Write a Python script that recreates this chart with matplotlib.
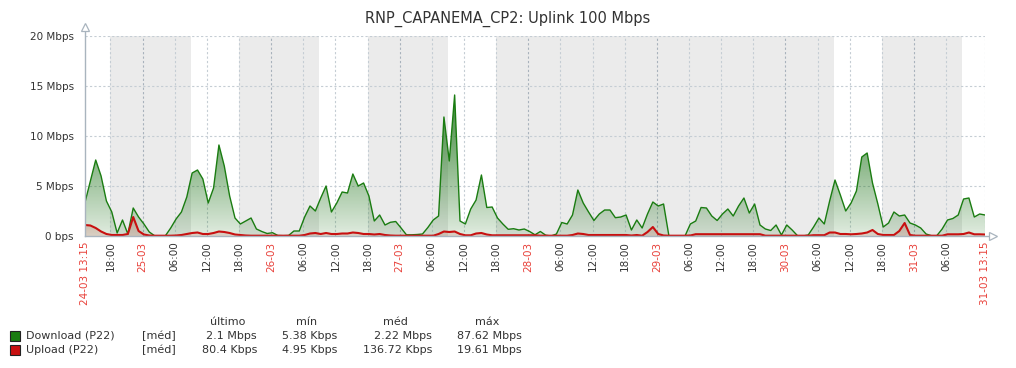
import numpy as np
import pandas as pd
import matplotlib
matplotlib.use('Agg')
import matplotlib.pyplot as plt
from matplotlib.patches import Rectangle

title = 'RNP_CAPANEMA_CP2: Uplink 100 Mbps'
start = '2015-03-24 13:15'
end = '2015-03-31 13:15'

# hourly averages, in Mbps
download = [3.37, 5.5, 7.6, 6.0, 3.5, 2.4, 0.3, 1.6, 0.2, 2.8,
            1.9, 1.2, 0.4, 0.02, 0.02, 0.02, 0.8, 1.7, 2.4, 3.9,
            6.3, 6.6, 5.7, 3.3, 4.8, 9.1, 7.0, 4.0, 1.8, 1.2,
            1.5, 1.8, 0.7, 0.45, 0.25, 0.33, 0.05, 0.03, 0.05, 0.5,
            0.5, 1.9, 3.0, 2.5, 3.8, 5.0, 2.4, 3.3, 4.4, 4.3,
            6.2, 5.0, 5.3, 4.0, 1.5, 2.1, 1.1, 1.37, 1.45, 0.8,
            0.12, 0.12, 0.15, 0.2, 0.85, 1.6, 2.0, 11.9, 7.5, 14.1,
            1.5, 1.2, 2.7, 3.6, 6.1, 2.85, 2.9, 1.8, 1.2, 0.67,
            0.73, 0.6, 0.7, 0.45, 0.12, 0.45, 0.08, 0.0, 0.2, 1.35,
            1.2, 2.1, 4.6, 3.3, 2.4, 1.55, 2.2, 2.6, 2.6, 1.83,
            1.9, 2.1, 0.6, 1.6, 0.8, 2.2, 3.4, 3.0, 3.2, 0.0,
            0.0, 0.0, 0.0, 1.2, 1.5, 2.85, 2.8, 2.0, 1.55, 2.2,
            2.7, 2.0, 3.0, 3.8, 2.3, 3.2, 1.1, 0.7, 0.55, 1.1,
            0.1, 1.1, 0.6, 0.03, 0.0, 0.1, 0.9, 1.8, 1.2, 3.5,
            5.6, 4.1, 2.5, 3.3, 4.5, 7.9, 8.3, 5.3, 3.2, 0.9,
            1.3, 2.4, 2.0, 2.1, 1.3, 1.1, 0.8, 0.2, 0.03, 0.03,
            0.7, 1.6, 1.75, 2.1, 3.7, 3.8, 1.9, 2.2, 2.1]
upload = [1.1, 1.05, 0.8, 0.45, 0.2, 0.1, 0.1, 0.1, 0.2, 1.9,
          0.5, 0.15, 0.05, 0.03, 0.03, 0.03, 0.03, 0.05, 0.1, 0.2,
          0.3, 0.35, 0.2, 0.2, 0.3, 0.45, 0.4, 0.3, 0.15, 0.1,
          0.05, 0.03, 0.03, 0.03, 0.03, 0.03, 0.03, 0.03, 0.03, 0.03,
          0.03, 0.1, 0.25, 0.3, 0.2, 0.3, 0.2, 0.2, 0.25, 0.25,
          0.35, 0.3, 0.2, 0.2, 0.15, 0.2, 0.1, 0.05, 0.03, 0.03,
          0.03, 0.03, 0.03, 0.03, 0.03, 0.03, 0.2, 0.45, 0.4, 0.45,
          0.2, 0.07, 0.07, 0.25, 0.3, 0.15, 0.07, 0.07, 0.07, 0.07,
          0.07, 0.07, 0.07, 0.07, 0.07, 0.03, 0.03, 0.03, 0.03, 0.03,
          0.03, 0.1, 0.25, 0.2, 0.1, 0.1, 0.1, 0.1, 0.1, 0.1,
          0.1, 0.1, 0.05, 0.1, 0.03, 0.4, 0.9, 0.2, 0.05, 0.03,
          0.03, 0.03, 0.03, 0.05, 0.18, 0.18, 0.18, 0.18, 0.18, 0.18,
          0.18, 0.18, 0.18, 0.18, 0.18, 0.18, 0.18, 0.03, 0.03, 0.03,
          0.03, 0.03, 0.03, 0.03, 0.03, 0.03, 0.08, 0.08, 0.08, 0.35,
          0.35, 0.2, 0.2, 0.17, 0.2, 0.25, 0.35, 0.6, 0.2, 0.1,
          0.1, 0.1, 0.5, 1.3, 0.1, 0.03, 0.03, 0.03, 0.03, 0.03,
          0.03, 0.17, 0.17, 0.17, 0.2, 0.35, 0.17, 0.17, 0.15]

series_names = ['Download (P22)', 'Upload (P22)']
series_func = ['[méd]', '[méd]']
last_vals = ['2.1 Mbps', '80.4 Kbps']
min_vals = ['5.38 Kbps', '4.95 Kbps']
avg_vals = ['2.22 Mbps', '136.72 Kbps']
max_vals = ['87.62 Mbps', '19.61 Mbps']
col_heads = ['último', 'mín', 'méd', 'máx']

yticks = [0, 5, 10, 15, 20]
ylabels = ['0 bps', '5 Mbps', '10 Mbps', '15 Mbps', '20 Mbps']

GREEN = '#1A7C11'
RED = '#C81010'
TXT = '#333333'
DATE_RED = '#E8413A'

W, H = 1016, 368
fig = plt.figure(figsize=(W / 100, H / 100), dpi=100)
ax = fig.add_axes([85 / W, 132 / H, 900 / W, 200 / H])

t0 = pd.Timestamp(start)
t1 = pd.Timestamp(end)
times = pd.date_range(start, periods=len(download), freq='h')
x = np.asarray((times - t0) / pd.Timedelta(hours=1), dtype=float)
xmax = (t1 - t0) / pd.Timedelta(hours=1)


def hrs(t):
    return (pd.Timestamp(t) - t0) / pd.Timedelta(hours=1)


# non-working time shading (weekdays 09:00-18:00 are working time)
spans = []
for day in pd.date_range(t0.normalize(), t1.normalize(), freq='D'):
    if day.weekday() >= 5:
        spans.append((hrs(day), hrs(day + pd.Timedelta(days=1))))
    else:
        spans.append((hrs(day), hrs(day + pd.Timedelta(hours=9))))
        spans.append((hrs(day + pd.Timedelta(hours=18)), hrs(day + pd.Timedelta(days=1))))
merged = []
for a, b in spans:
    a, b = max(a, 0), min(b, xmax)
    if b <= a:
        continue
    if merged and abs(merged[-1][1] - a) < 1e-9:
        merged[-1] = (merged[-1][0], b)
    else:
        merged.append((a, b))
for a, b in merged:
    ax.axvspan(a, b, color='#EBEBEB', lw=0, zorder=0)

# grid
for v in yticks[1:]:
    ax.axhline(v, color='#C5CDD4', lw=0.8, dashes=(2, 2), zorder=1)
ticks = pd.date_range('2015-03-24 18:00', '2015-03-31 06:00', freq='6h')
for t in ticks:
    c = '#A8B2BC' if t.hour == 0 else '#C5CDD4'
    ax.axvline(hrs(t), color=c, lw=0.8, dashes=(2, 2), zorder=1)
ax.axvline(xmax, color='#C5CDD4', lw=0.8, dashes=(2, 2), zorder=1)


def grad_fill(xs, ys, rgb, a_bot, slope, z):
    poly = ax.fill_between(xs, 0, ys, facecolor='none', edgecolor='none')
    lev = np.linspace(0, 20, 256)
    img = np.zeros((256, 1, 4))
    img[..., :3] = rgb
    img[..., 3] = np.clip(a_bot + slope * lev, 0, 1)[:, None]
    im = ax.imshow(img, aspect='auto', extent=[0, xmax, 0, 20], origin='lower',
                   zorder=z, interpolation='bilinear')
    im.set_clip_path(poly.get_paths()[0], ax.transData)


grad_fill(x, download, (0.08, 0.43, 0.06), 0.13, 0.05, 2)
ax.plot(x, download, color=GREEN, lw=1.0, zorder=3)
grad_fill(x, upload, (0.72, 0.18, 0.12), 0.15, 0.05, 4)
ax.plot(x, upload, color=RED, lw=1.5, zorder=5)

ax.set_xlim(0, xmax)
ax.set_ylim(0, 20)
for s in ax.spines.values():
    s.set_visible(False)

# y ticks
ax.set_yticks(yticks)
ax.set_yticklabels(ylabels, fontsize=7.5, color=TXT)
ax.tick_params(axis='y', length=0, pad=8)

# x ticks
xt = [0] + [hrs(t) for t in ticks] + [xmax]
xl = [t0.strftime('%d-%m %H:%M')]
xc = [DATE_RED]
for t in ticks:
    if t.hour == 0:
        xl.append(t.strftime('%d-%m'))
        xc.append(DATE_RED)
    else:
        xl.append(t.strftime('%H:%M'))
        xc.append(TXT)
xl.append(t1.strftime('%d-%m %H:%M'))
xc.append(DATE_RED)
ax.set_xticks(xt)
ax.set_xticklabels(xl, rotation=90, fontsize=7.5, ha='center', va='top')
for lab, c in zip(ax.get_xticklabels(), xc):
    lab.set_color(c)
ax.tick_params(axis='x', length=0, pad=4)

# axis lines with arrow heads
axc = '#A9B4BE'
ax.plot([0, 0], [0, 1.04], transform=ax.transAxes, color=axc, lw=1.0, clip_on=False, zorder=6)
ax.plot([0], [1.045], transform=ax.transAxes, marker='^', ms=6, mfc='white', mec=axc,
        mew=0.9, clip_on=False, zorder=6)
ax.plot([0, 1.005], [0, 0], transform=ax.transAxes, color=axc, lw=1.0, clip_on=False, zorder=6)
ax.plot([1.009], [0], transform=ax.transAxes, marker='>', ms=6, mfc='white', mec=axc,
        mew=0.9, clip_on=False, zorder=6)

fig.text(508 / W, 1 - 19 / H, title, ha='center', va='center', fontsize=10.5, color=TXT)

# legend
def fx(px):
    return px / W


def fy(py):
    return 1 - py / H


head_x = [228, 307, 395, 487]
for hx, h in zip(head_x, col_heads):
    fig.text(fx(hx), fy(322), h, ha='center', va='center', fontsize=8, color=TXT)
colors = [GREEN, RED]
for i in range(len(series_names)):
    yy = 336 + i * 14
    fig.add_artist(Rectangle((fx(10), fy(yy + 5)), 10 / W, 10 / H, transform=fig.transFigure,
                             fc=colors[i], ec='#222222', lw=0.8))
    fig.text(fx(26), fy(yy), series_names[i], ha='left', va='center', fontsize=8, color=TXT)
    fig.text(fx(142), fy(yy), series_func[i], ha='left', va='center', fontsize=8, color=TXT)
    for rx, v in zip([257, 337, 432, 522], [last_vals[i], min_vals[i], avg_vals[i], max_vals[i]]):
        fig.text(fx(rx), fy(yy), v, ha='right', va='center', fontsize=8, color=TXT)

fig.savefig('out.png', dpi=100, facecolor='white')
